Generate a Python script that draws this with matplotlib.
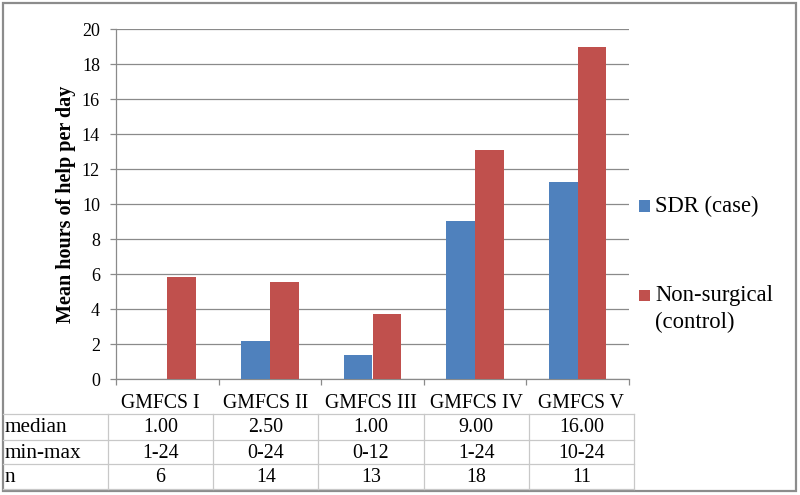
import matplotlib.pyplot as plt
import numpy as np
from matplotlib.lines import Line2D
from matplotlib.patches import Rectangle

categories = ["GMFCS I", "GMFCS II", "GMFCS III", "GMFCS IV", "GMFCS V"]
sdr_case = [0.0, 2.21, 1.41, 9.07, 11.3]
non_surgical = [5.83, 5.56, 3.73, 13.1, 18.97]
median = ["1.00", "2.50", "1.00", "9.00", "16.00"]
min_max = ["1-24", "0-24", "0-12", "1-24", "10-24"]
n_counts = ["6", "14", "13", "18", "11"]
row_labels = ["median", "min-max", "n"]

W, H = 800, 495
BLUE = "#4f81bd"
RED = "#c0504d"
GRID = "#8a8a8a"
TABLE_LINE = "#c8c8c8"

plt.rcParams["font.family"] = ["Liberation Serif", "DejaVu Serif"]


def fx(px):
    return px / W


def fy(py):
    return 1 - py / H


fig = plt.figure(figsize=(8, 4.95), dpi=100)
ax = fig.add_axes([fx(116), fy(379.3), fx(629 - 116), (379.3 - 29.3) / H])

x = np.arange(len(categories))
width = 0.28
bars_sdr = ax.bar(x - width / 2, sdr_case, width, color=BLUE, zorder=3)
bars_ctl = ax.bar(x + width / 2, non_surgical, width, color=RED, zorder=3)

ax.set_xlim(-0.5, len(categories) - 0.5)
ax.set_ylim(0, 20)
ax.set_yticks(np.arange(0, 21, 2))
ax.yaxis.grid(True, color=GRID, linewidth=0.9, zorder=0)
ax.set_axisbelow(True)

ax.set_xticks(np.arange(-0.5, len(categories), 1.0))
ax.set_xticklabels([])
for side in ["top", "right"]:
    ax.spines[side].set_visible(False)
for side in ["left", "bottom"]:
    ax.spines[side].set_color(GRID)
    ax.spines[side].set_linewidth(0.9)
ax.tick_params(axis="both", color=GRID, length=4.5, width=0.9)
ax.tick_params(axis="y", labelsize=13, pad=7)

ax.set_ylabel("Mean hours of help per day", fontsize=14.5, fontweight="bold",
              labelpad=4)

# legend drawn by hand so the square sits on the first line of the label
legend_items = [
    (bars_sdr.patches[0].get_facecolor(), ["SDR (case)"], 206),
    (bars_ctl.patches[0].get_facecolor(), ["Non-surgical", "(control)"], 295),
]
for color, lines, py in legend_items:
    fig.add_artist(Rectangle((fx(639), fy(py + 5.5)), fx(11), 11 / H,
                             facecolor=color, edgecolor="none"))
    for k, line in enumerate(lines):
        fig.text(fx(655), fy(py + 27 * k), line, ha="left", va="center",
                 fontsize=16.3)

# data table under the chart
col_edges = np.linspace(108, 634, len(categories) + 1)
row_lines = [414, 440, 464, 489]
row_centers = [428, 453, 477]

for i, label in enumerate(categories):
    cx = (col_edges[i] + col_edges[i + 1]) / 2
    fig.text(fx(cx), fy(403), label, ha="center", va="center", fontsize=14.2)

for py in row_lines:
    fig.add_artist(Line2D([fx(3), fx(634)], [fy(py), fy(py)],
                          color=TABLE_LINE, linewidth=0.9))
for px in col_edges:
    fig.add_artist(Line2D([fx(px), fx(px)], [fy(414), fy(489)],
                          color=TABLE_LINE, linewidth=0.9))

rows = [median, min_max, n_counts]
for label, values, py in zip(row_labels, rows, row_centers):
    fig.text(fx(5), fy(py), label, ha="left", va="center", fontsize=15.3)
    for i, v in enumerate(values):
        cx = (col_edges[i] + col_edges[i + 1]) / 2
        fig.text(fx(cx), fy(py), v, ha="center", va="center", fontsize=14.4)

# outer chart frame
fig.add_artist(Rectangle((fx(3), fy(491)), fx(796 - 3), (491 - 3) / H,
                         fill=False, edgecolor="#8c8c8c", linewidth=1.6))

fig.savefig("out.png", dpi=100)
